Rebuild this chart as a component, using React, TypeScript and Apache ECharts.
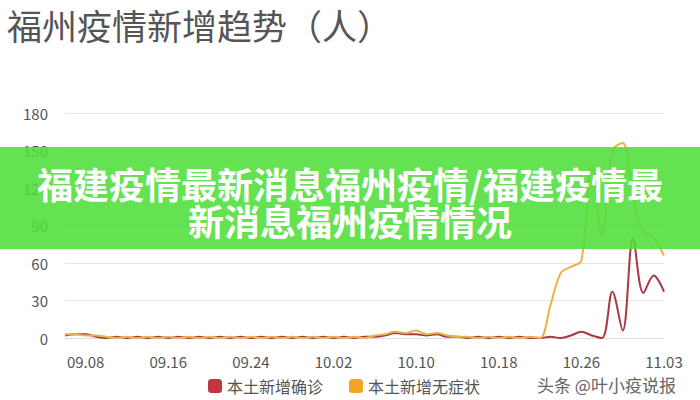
import React, { useEffect, useRef } from 'react';
import * as echarts from 'echarts';

// 日期 09.06 - 11.03
const dates = [
    '09.06', '09.07', '09.08', '09.09', '09.10', '09.11', '09.12', '09.13', '09.14', '09.15',
    '09.16', '09.17', '09.18', '09.19', '09.20', '09.21', '09.22', '09.23', '09.24', '09.25',
    '09.26', '09.27', '09.28', '09.29', '09.30', '10.01', '10.02', '10.03', '10.04', '10.05',
    '10.06', '10.07', '10.08', '10.09', '10.10', '10.11', '10.12', '10.13', '10.14', '10.15',
    '10.16', '10.17', '10.18', '10.19', '10.20', '10.21', '10.22', '10.23', '10.24', '10.25',
    '10.26', '10.27', '10.28', '10.29', '10.30', '10.31', '11.01', '11.02', '11.03',
];
const confirmed = [
    2, 3, 3, 1, 0, 1, 0, 1, 0, 1,
    0, 1, 0, 1, 0, 1, 0, 1, 0, 1,
    0, 1, 0, 1, 0, 1, 0, 1, 0, 1,
    1, 2, 4, 3, 3, 2, 3, 1, 1, 0,
    1, 0, 1, 0, 1, 0, 0, 1, 0, 2,
    5, 2, 0, 37, 6, 80, 36, 50, 37,
];
const asymptomatic = [
    3, 3, 2, 2, 1, 0, 1, 0, 1, 0,
    1, 0, 1, 0, 1, 0, 1, 0, 1, 0,
    1, 0, 1, 0, 1, 0, 1, 0, 1, 0,
    2, 3, 5, 4, 6, 3, 4, 2, 1, 1,
    0, 1, 0, 1, 0, 1, 0, 26, 52, 57,
    62, 138, 82, 150, 156, 112, 85, 80, 66,
];
const yTicks = [0, 30, 60, 90, 120, 150, 180];
const seriesNames = ['本土新增确诊', '本土新增无症状'];

export default function App() {
    const chartRef = useRef<HTMLDivElement>(null);

    useEffect(() => {
        if (!chartRef.current) return;
        const chart = echarts.init(chartRef.current, undefined, { renderer: 'svg' });
        const font = '"Noto Sans CJK SC", "Noto Sans", sans-serif';
        chart.setOption({
            animation: false,
            backgroundColor: '#fff',
            textStyle: { fontFamily: font },
            grid: { left: 65, right: 36, top: 113, bottom: 62 },
            legend: {
                left: 203,
                top: 373,
                icon: 'roundRect',
                itemWidth: 14,
                itemHeight: 14,
                itemGap: 26,
                textStyle: { fontSize: 16, color: '#555', fontFamily: font },
                data: seriesNames,
            },
            xAxis: {
                type: 'category',
                boundaryGap: false,
                data: dates,
                axisLine: { lineStyle: { color: '#ddd' } },
                axisTick: { show: false },
                axisLabel: {
                    interval: (i: number) => (i - 2) % 8 === 0,
                    color: '#555',
                    fontSize: 15,
                    margin: 16,
                    fontFamily: font,
                },
            },
            yAxis: {
                type: 'value',
                min: yTicks[0],
                max: yTicks[yTicks.length - 1],
                interval: 30,
                axisLabel: { color: '#555', fontSize: 15, margin: 17, fontFamily: font },
                splitLine: { lineStyle: { color: '#e6e6e6' } },
                axisLine: { show: false },
                axisTick: { show: false },
            },
            series: [
                {
                    name: seriesNames[0],
                    type: 'line',
                    data: confirmed,
                    smooth: 0.35,
                    showSymbol: false,
                    z: 2,
                    itemStyle: { color: '#c2343f' },
                    lineStyle: { color: '#a83842', width: 2 },
                },
                {
                    name: seriesNames[1],
                    type: 'line',
                    data: asymptomatic,
                    smooth: 0.35,
                    showSymbol: false,
                    z: 3,
                    itemStyle: { color: '#f2a51e' },
                    lineStyle: { color: '#e9b24a', width: 2 },
                },
            ],
            graphic: [
                {
                    type: 'text',
                    left: 7,
                    top: 7,
                    z: 100,
                    style: { text: '福州疫情新增趋势（人）', fontSize: 35, fill: '#555', fontFamily: font },
                },
                {
                    type: 'rect',
                    left: 0,
                    top: 147,
                    z: 100,
                    shape: { width: 700, height: 102 },
                    style: { fill: 'rgba(78, 222, 58, 0.88)' },
                },
                {
                    type: 'text',
                    x: 350,
                    y: 201,
                    z: 101,
                    style: {
                        text: '福建疫情最新消息福州疫情/福建疫情最\n新消息福州疫情情况',
                        fontSize: 36,
                        lineHeight: 37,
                        fontWeight: 'bold',
                        fill: '#fff',
                        align: 'center',
                        verticalAlign: 'middle',
                        fontFamily: font,
                    },
                },
                {
                    type: 'text',
                    left: 537,
                    top: 376,
                    z: 100,
                    style: { text: '头条 @叶小疫说报', fontSize: 17, fill: '#666', fontFamily: font },
                },
            ],
        });
        return () => {
            chart.dispose();
        };
    }, []);

    return (
        <div
            ref={chartRef}
            style={{ position: 'fixed', left: 0, top: 0, width: '700px', height: '400px' }}
        ></div>
    );
}
